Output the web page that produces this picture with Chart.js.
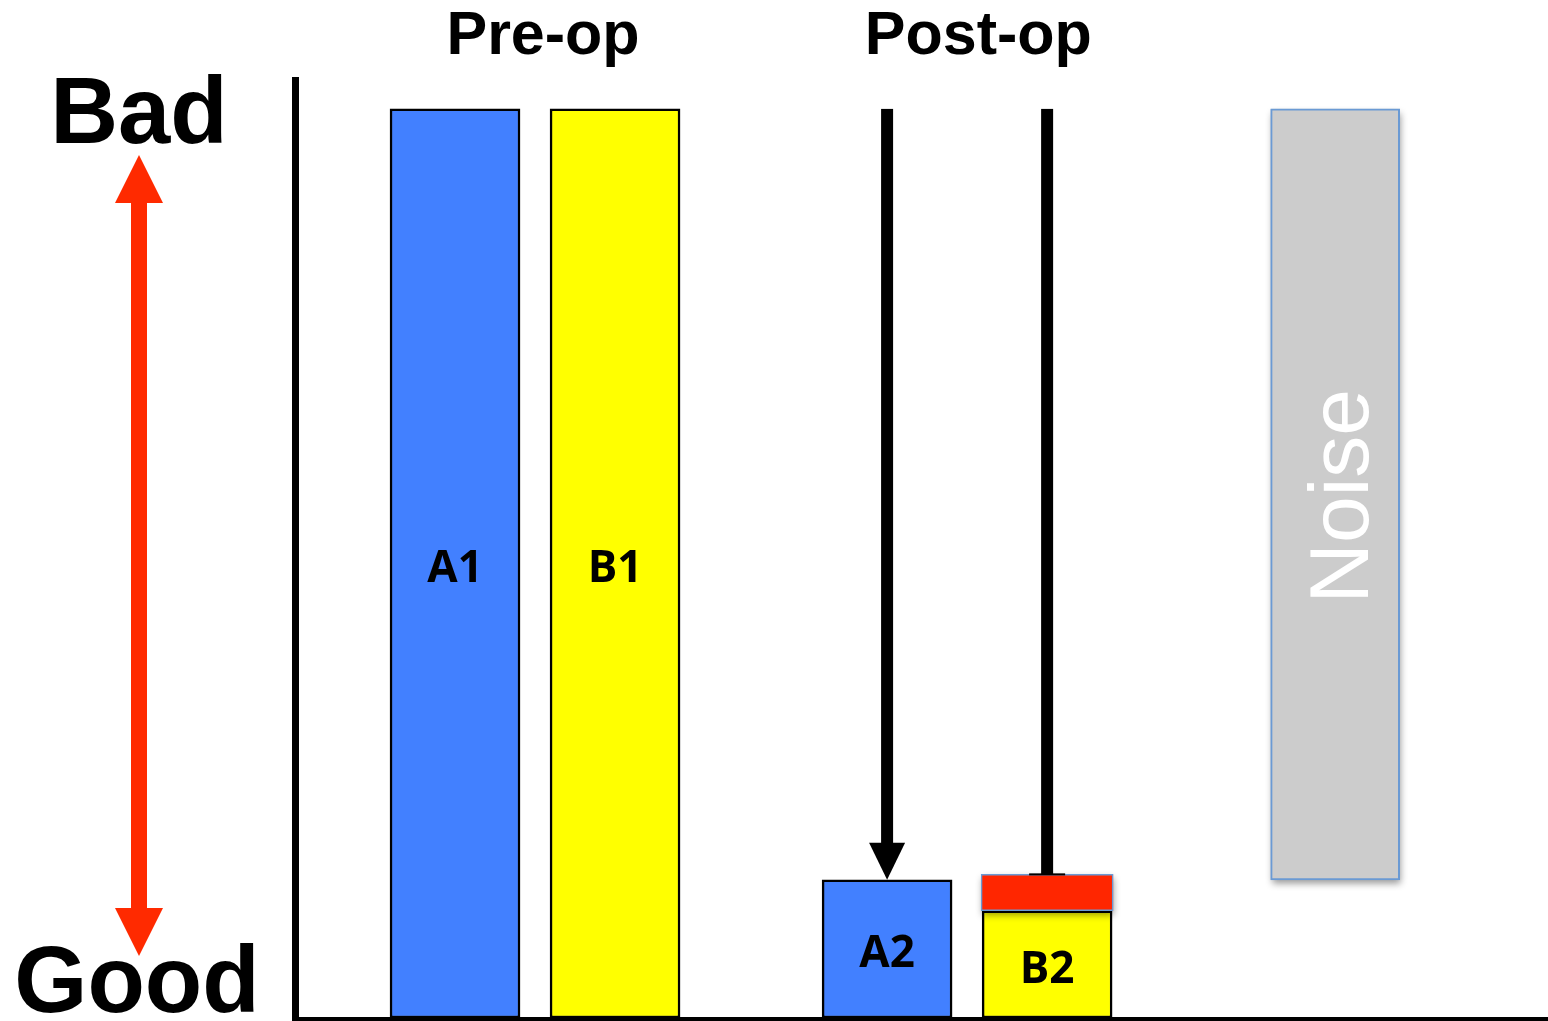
<!DOCTYPE html>
<html>
<head>
<meta charset="utf-8">
<script src="https://cdn.jsdelivr.net/npm/chart.js@4.4.1/dist/chart.umd.min.js"></script>
<style>
    html, body { margin: 0; padding: 0; background: #ffffff; }
    #wrap { width: 1548px; height: 1021px; position: relative; }
</style>
</head>
<body>
<div id="wrap"><canvas id="outcome-chart"></canvas></div>
<script>
// bar names and where they sit on the x axis (units of bar pitch)
const barLabels = ["A1", "B1", "A2", "B2"];
const barX = [1, 2, 3.7, 4.7];
// "badness" score, 100 = as bad as pre-op
const barValues = [100, 100, 15.2, 11.8];
const barColors = ["#4280ff", "#ffff00", "#4280ff", "#ffff00"];

// residual part on top of B2 (red cap)
const capX = [4.7];
const capRange = [[11.8, 15.8]];

// noise band
const noiseX = [6.5];
const noiseRange = [[15.2, 100]];

// black arrows: from pre-op level down to post-op level
const arrowX = [3.7, 4.7];
const arrowFrom = [100, 100];
const arrowTo = [15.2, 15.8];
const arrowHead = [true, false];

// group titles
const groupTitles = ["Pre-op", "Post-op"];
const groupTitleX = [1.55, 4.27];

const yMax = 103.4;
const xMax = 7.83;

document.addEventListener("DOMContentLoaded", function () {
    const canvas = document.getElementById("outcome-chart");

    // axes, arrows, titles and text drawn on top of the bars
    const decorPlugin = {
        id: "decorPlugin",
        // bar borders clip the canvas shadow, so paint a soft shadow rect first
        beforeDatasetDraw(chart, args) {
            const ds = chart.data.datasets[args.index];
            if (!ds.shadow) return;
            const ctx = chart.ctx;
            ctx.save();
            ctx.shadowColor = "rgba(0, 0, 0, 0.4)";
            ctx.shadowBlur = 7;
            ctx.shadowOffsetX = 1;
            ctx.shadowOffsetY = 4;
            ctx.fillStyle = ds.backgroundColor;
            args.meta.data.forEach(bar => {
                const top = Math.min(bar.y, bar.base);
                const h = Math.abs(bar.base - bar.y);
                ctx.fillRect(bar.x - bar.width / 2, top, bar.width, h);
            });
            ctx.restore();
        },
        afterDatasetsDraw(chart) {
            const { ctx, chartArea, scales } = chart;
            const xs = scales.x, ys = scales.y;
            ctx.save();

            // axes
            ctx.fillStyle = "#000000";
            ctx.fillRect(chartArea.left - 3, chartArea.top - 1, 7, chartArea.bottom - chartArea.top + 4);
            ctx.fillRect(chartArea.left - 3, chartArea.bottom - 1, chartArea.right - chartArea.left + 3, 4);

            // bar labels
            ctx.textAlign = "center";
            ctx.textBaseline = "middle";
            ctx.font = "bold 44px 'Open Sans', sans-serif";
            ctx.fillStyle = "#000000";
            const meta = chart.getDatasetMeta(0);
            meta.data.forEach((bar, i) => {
                const yMid = (bar.y + bar.base) / 2 + 6;
                ctx.fillText(barLabels[i], bar.x, yMid);
            });

            // noise label
            const nMeta = chart.getDatasetMeta(1);
            nMeta.data.forEach(bar => {
                ctx.save();
                ctx.translate(bar.x + 10, (bar.y + bar.base) / 2 + 2);
                ctx.rotate(-Math.PI / 2);
                ctx.font = "84px 'Liberation Sans', Arial, sans-serif";
                ctx.fillStyle = "#ffffff";
                ctx.fillText("Noise", 0, 0);
                ctx.restore();
            });

            // black arrows
            ctx.fillStyle = "#000000";
            arrowX.forEach((xv, i) => {
                const px = xs.getPixelForValue(xv);
                const y0 = ys.getPixelForValue(arrowFrom[i]);
                const y1 = ys.getPixelForValue(arrowTo[i]);
                if (arrowHead[i]) {
                    ctx.fillRect(px - 6, y0, 12, (y1 - 36) - y0);
                    ctx.beginPath();
                    ctx.moveTo(px - 18, y1 - 37);
                    ctx.lineTo(px + 18, y1 - 37);
                    ctx.lineTo(px, y1);
                    ctx.closePath();
                    ctx.fill();
                } else {
                    ctx.fillRect(px - 6, y0, 12, y1 - y0);
                    ctx.fillRect(px - 18, y1 - 1, 36, 2);
                }
            });

            // group titles
            ctx.font = "bold 61px 'Liberation Sans', Arial, sans-serif";
            ctx.textBaseline = "alphabetic";
            groupTitles.forEach((t, i) => {
                ctx.fillText(t, xs.getPixelForValue(groupTitleX[i]), 54);
            });

            // Bad / Good with red double arrow
            ctx.font = "bold 94px 'Liberation Sans', Arial, sans-serif";
            ctx.fillText("Bad", 139, 143);
            ctx.fillText("Good", 137, 1012);

            ctx.fillStyle = "#ff2a00";
            const ax = 139;
            ctx.fillRect(ax - 8, 200, 16, 710);
            ctx.beginPath();
            ctx.moveTo(ax, 155);
            ctx.lineTo(ax + 24, 203);
            ctx.lineTo(ax - 24, 203);
            ctx.closePath();
            ctx.fill();
            ctx.beginPath();
            ctx.moveTo(ax, 956);
            ctx.lineTo(ax + 24, 908);
            ctx.lineTo(ax - 24, 908);
            ctx.closePath();
            ctx.fill();

            ctx.restore();
        }
    };

    new Chart(canvas, {
        type: "bar",
        data: {
            datasets: [
                {
                    label: "Score",
                    data: barX.map((x, i) => ({ x: x, y: [0, barValues[i]] })),
                    backgroundColor: barColors,
                    borderColor: "#000000",
                    borderWidth: 2.5,
                    borderSkipped: false,
                    barThickness: 130,
                    grouped: false,
                    order: 2
                },
                {
                    label: "Noise",
                    data: noiseX.map((x, i) => ({ x: x, y: noiseRange[i] })),
                    backgroundColor: "#cccccc",
                    borderColor: "#6a9ad4",
                    borderWidth: 2,
                    borderSkipped: false,
                    barThickness: 129,
                    grouped: false,
                    shadow: true,
                    order: 3
                },
                {
                    label: "Residual",
                    data: capX.map((x, i) => ({ x: x, y: capRange[i] })),
                    backgroundColor: "#ff2600",
                    borderColor: "#6a9ad4",
                    borderWidth: 1.5,
                    borderSkipped: false,
                    barThickness: 132,
                    grouped: false,
                    shadow: true,
                    order: 1
                }
            ]
        },
        options: {
            responsive: true,
            maintainAspectRatio: false,
            animation: false,
            layout: {
                padding: { left: 295, right: 0, top: 78, bottom: 3 }
            },
            plugins: {
                legend: { display: false },
                tooltip: { enabled: false }
            },
            scales: {
                x: {
                    type: "linear",
                    min: 0,
                    max: xMax,
                    offset: false,
                    display: false
                },
                y: {
                    min: 0,
                    max: yMax,
                    display: false
                }
            }
        },
        plugins: [decorPlugin]
    });
});
</script>
</body>
</html>
